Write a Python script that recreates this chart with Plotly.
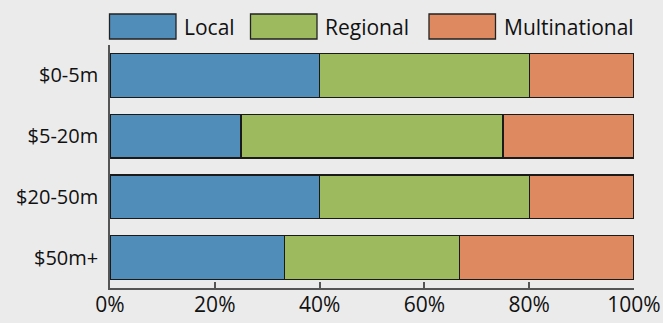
import plotly.graph_objects as go

categories = ["$0-5m", "$5-20m", "$20-50m", "$50m+"]
local = [40, 25, 40, 33.33]
regional = [40, 50, 40, 33.33]
multinational = [20, 25, 20, 33.34]
series_names = ["Local", "Regional", "Multinational"]
colors = ["#508DB9", "#9DBB5E", "#DF8960"]
x_ticks = [0, 20, 40, 60, 80, 100]
x_tick_labels = ["0%", "20%", "40%", "60%", "80%", "100%"]

W, H = 663, 323
ML, MR, MT, MB = 110, 29, 45, 35
PW, PH = W - ML - MR, H - MT - MB
FONT = "Open Sans"

fig = go.Figure()
for name, vals, col in zip(series_names, [local, regional, multinational], colors):
    fig.add_trace(go.Bar(
        y=categories, x=vals, name=name, orientation="h",
        marker=dict(color=col, line=dict(color="#1a1a1a", width=1.3)),
        width=0.72, showlegend=False,
    ))

def px_x(p):
    return (p - ML) / PW

def px_y(p):
    return (H - MB - p) / PH

shapes = []
annotations = []
legend_boxes = [(109.5, 183), (250.5, 324), (429, 503)]
for (bx, tx), name, col in zip(legend_boxes, series_names, colors):
    shapes.append(dict(type="rect", xref="paper", yref="paper",
                       x0=px_x(bx), x1=px_x(bx + 66.5), y0=px_y(39), y1=px_y(14),
                       fillcolor=col, line=dict(color="#222222", width=1.3)))
    annotations.append(dict(text=name, xref="paper", yref="paper",
                            x=px_x(tx - 1), y=px_y(27), xanchor="left", yanchor="middle",
                            showarrow=False, font=dict(family=FONT, size=21, color="#111111")))

fig.update_layout(
    width=W, height=H,
    margin=dict(l=ML, r=MR, t=MT, b=MB, autoexpand=False),
    paper_bgcolor="#EBEBEB", plot_bgcolor="#EBEBEB",
    barmode="stack",
    font=dict(family=FONT, size=20, color="#111111"),
    shapes=shapes, annotations=annotations,
    xaxis=dict(range=[0, 100], tickvals=x_ticks, ticktext=x_tick_labels,
               automargin=False, ticklabelstandoff=-3,
               showgrid=False, zeroline=False, showline=True, linecolor="#555555",
               linewidth=1.5, ticks="inside", ticklen=6, tickwidth=1.5, tickcolor="#555555",
               tickfont=dict(size=21)),
    yaxis=dict(range=[3.5, -0.5], autorange=False, automargin=False,
               showgrid=False, zeroline=False,
               showline=True, linecolor="#555555", linewidth=1.5, ticks="",
               ticklabelstandoff=6, tickfont=dict(size=20)),
)

fig.write_html("out.html")
